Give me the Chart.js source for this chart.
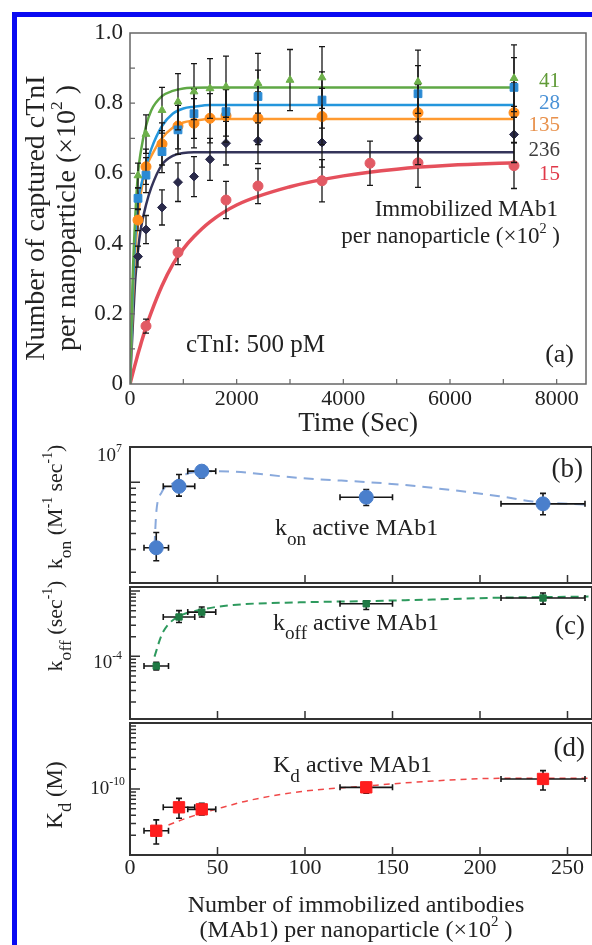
<!DOCTYPE html>
<html>
<head>
<meta charset="utf-8">
<title>cTnI capture kinetics</title>
<script src="https://cdn.jsdelivr.net/npm/chart.js@4.4.1/dist/chart.umd.min.js"></script>
<style>
  body { margin: 0; background: #fff; }
  #page { position: relative; width: 592px; height: 945px; overflow: hidden; }
  #page canvas { position: absolute; left: 0; top: 0; }
  #rim { position: absolute; left: 12px; top: 12px; width: 620px; height: 980px;
         border-left: 5px solid #0a0af2; border-top: 5px solid #0a0af2; }
</style>
</head>
<body>
<div id="page">
  <div id="rim"></div>
  <canvas id="chartA" width="592" height="945"></canvas>
  <canvas id="chartB" width="592" height="945"></canvas>
  <canvas id="chartC" width="592" height="945"></canvas>
  <canvas id="chartD" width="592" height="945"></canvas>
</div>
<script>
const FONT = '"Liberation Serif", "Times New Roman", serif';
Chart.defaults.font.family = FONT;
Chart.defaults.color = "#222";
Chart.defaults.animation = false;

// (a) captured cTnI per nanoparticle vs time, one series per MAb1 loading
const timeA = [150, 300, 600, 900, 1200, 1500, 1800, 2400, 3000, 3600, 4500, 5400, 7200];
const cap41 = [0.594, 0.712, 0.78, 0.804, 0.833, 0.842, 0.847, 0.857, 0.866, 0.873, null, 0.861, 0.871];
const cap28 = [0.529, 0.595, 0.662, 0.724, 0.77, null, 0.776, 0.819, null, 0.809, null, 0.827, 0.845];
const cap135 = [0.467, 0.619, 0.684, 0.735, 0.743, 0.757, 0.764, 0.757, null, 0.762, null, 0.773, 0.773];
const cap236 = [0.363, 0.44, 0.503, 0.575, 0.591, 0.64, 0.686, 0.693, null, 0.688, null, 0.7, 0.711];
const cap15 = [null, 0.165, null, 0.375, null, null, 0.524, 0.564, null, 0.579, 0.629, 0.63, 0.622];
const err41 = [0.035, 0.055, 0.065, 0.08, 0.08, 0.085, 0.087, 0.085, 0.087, 0.088, null, 0.09, 0.095];
const err28 = [0.03, 0.05, 0.06, 0.07, 0.07, null, 0.07, 0.075, null, 0.08, null, 0.08, 0.085];
const err135 = [0.03, 0.05, 0.06, 0.065, 0.07, 0.07, 0.075, 0.075, null, 0.08, null, 0.08, 0.085];
const err236 = [0.03, 0.04, 0.05, 0.055, 0.057, 0.06, 0.062, 0.065, null, 0.07, null, 0.075, 0.08];
const err15 = [null, 0.02, null, 0.035, null, null, 0.053, 0.05, null, 0.06, 0.063, 0.07, 0.065];

// fitted curves
const fitTime = [0, 50, 100, 150, 200, 300, 400, 600, 800, 1000, 1200, 1500, 2000, 3000, 4000, 5000, 6000, 7200];
const fit41 = [0, 0.3, 0.48, 0.6, 0.66, 0.735, 0.78, 0.82, 0.835, 0.842, 0.844, 0.845, 0.845, 0.845, 0.845, 0.845, 0.845, 0.845];
const fit28 = [0, 0.25, 0.42, 0.52, 0.56, 0.62, 0.67, 0.735, 0.77, 0.785, 0.79, 0.795, 0.795, 0.795, 0.795, 0.795, 0.795, 0.795];
const fit135 = [0, 0.22, 0.38, 0.47, 0.54, 0.615, 0.65, 0.7, 0.73, 0.745, 0.75, 0.755, 0.755, 0.755, 0.755, 0.755, 0.755, 0.755];
const fit236 = [0, 0.16, 0.3, 0.38, 0.44, 0.51, 0.56, 0.625, 0.65, 0.658, 0.66, 0.66, 0.66, 0.66, 0.66, 0.66, 0.66, 0.66];
const fit15 = [0, 0.03, 0.058, 0.086, 0.112, 0.162, 0.205, 0.28, 0.34, 0.385, 0.42, 0.462, 0.51, 0.562, 0.593, 0.612, 0.623, 0.63];

const xTicksA = [0, 2000, 4000, 6000, 8000];
const yTicksA = [0, 0.2, 0.4, 0.6, 0.8, 1.0];

// (b)-(d) rate constants vs immobilized MAb1 (x10^2)
const mab = [15, 28, 41, 135, 236];
const mabErr = [7, 9, 8, 15, 24];
const kon = [3.1e6, 9.3e6, 1.22e7, 7.66e6, 6.8e6];
const konHi = [4.07e6, 1.15e7, 1.35e7, 8.8e6, 8.2e6];
const konLo = [2.46e6, 7.8e6, 1.08e7, 6.6e6, 5.6e6];
const konFitX = [14, 15, 18, 25, 34, 50, 97, 154, 211, 230, 262];
const konFit = [3.2e6, 5.8e6, 8.3e6, 9.9e6, 1.18e7, 1.22e7, 1.08e7, 9.6e6, 7.8e6, 7.1e6, 6.7e6];
const koff = [7.1e-5, 4.0e-4, 4.75e-4, 6.36e-4, 7.8e-4];
const koffHi = [8.1e-5, 5.0e-4, 5.7e-4, 7.1e-4, 9.3e-4];
const koffLo = [6.2e-5, 3.3e-4, 4.0e-4, 5.2e-4, 6.3e-4];
const koffFitX = [14, 18, 22, 28, 41, 59, 97, 135, 173, 211, 262];
const koffFit = [9.9e-5, 2.1e-4, 3.1e-4, 4.1e-4, 5.2e-4, 6.1e-4, 6.7e-4, 7.0e-4, 7.4e-4, 7.9e-4, 8.2e-4];
const kd = [2.33e-11, 5.28e-11, 4.92e-11, 1.06e-10, 1.42e-10];
const kdHi = [3.4e-11, 7.2e-11, 6.07e-11, 1.25e-10, 1.9e-10];
const kdLo = [1.47e-11, 3.6e-11, 4.04e-11, 8.6e-11, 9.65e-11];
const kdFitX = [22, 32, 51, 69, 97, 135, 173, 211, 262];
const kdFit = [2.85e-11, 3.6e-11, 5.1e-11, 6.8e-11, 9.1e-11, 1.11e-10, 1.32e-10, 1.45e-10, 1.45e-10];

const xTicksBD = [0, 50, 100, 150, 200, 250];

// ---------- helpers ----------
const withBars = (xs, ys, es) =>
  xs.map((x, i) => ({ x, y: ys[i], lo: ys[i] - es[i], hi: ys[i] + es[i] })).filter((p) => p.y != null);
const withBoxBars = (ys, lo, hi) =>
  mab.map((x, i) => ({ x, y: ys[i], lo: lo[i], hi: hi[i], xe: mabErr[i] }));
const curve = (xs, ys) => xs.map((x, i) => ({ x, y: ys[i] }));

function logMarks(min, max) {
  const out = [];
  for (let e = Math.floor(Math.log10(min)); e <= Math.ceil(Math.log10(max)); e++) {
    for (let m = 1; m <= 9; m++) {
      const v = m * Math.pow(10, e);
      if (v >= min && v <= max) out.push([v, m === 1 ? 10 : 6]);
    }
  }
  return out;
}

// draws text made of parts: "plain" or [text, 1] for subscript, [text, 2] for superscript
function rich(ctx, parts, x, y, size, align = "left", color = "#222", rot = 0) {
  const segs = parts.map((p) => (typeof p === "string" ? [p, 0] : p));
  const fontOf = (m) => (m === 1 ? size * 0.8 : m === 2 ? size * 0.62 : size) + "px " + FONT;
  let w = 0;
  segs.forEach(([t, m]) => { ctx.font = fontOf(m); w += ctx.measureText(t).width; });
  ctx.save();
  ctx.translate(x, y);
  ctx.rotate(rot);
  ctx.fillStyle = color;
  ctx.textAlign = "left";
  ctx.textBaseline = "alphabetic";
  let cx = align === "center" ? -w / 2 : align === "right" ? -w : 0;
  segs.forEach(([t, m]) => {
    ctx.font = fontOf(m);
    ctx.fillText(t, cx, m === 1 ? size * 0.4 : m === 2 ? -size * 0.45 : 0);
    cx += ctx.measureText(t).width;
  });
  ctx.restore();
}

const notes = (items) => ({
  id: "notes",
  afterDraw(chart) {
    items.forEach((n) => rich(chart.ctx, n.t, n.x, n.y, n.size, n.align, n.color, n.rot));
  },
});

const errorBars = {
  id: "errorBars",
  beforeDatasetDraw(chart, args) {
    const ds = chart.data.datasets[args.index];
    if (!ds.bars) return;
    const { ctx, scales: { x, y } } = chart;
    const cap = ds.bars.cap;
    ctx.save();
    ctx.strokeStyle = "#161616";
    ctx.lineWidth = ds.bars.width;
    ctx.beginPath();
    ds.data.forEach((p) => {
      const px = x.getPixelForValue(p.x);
      const py = y.getPixelForValue(p.y);
      if (p.hi != null) {
        const t = y.getPixelForValue(p.hi), b = y.getPixelForValue(p.lo);
        ctx.moveTo(px, t); ctx.lineTo(px, b);
        ctx.moveTo(px - cap, t); ctx.lineTo(px + cap, t);
        ctx.moveTo(px - cap, b); ctx.lineTo(px + cap, b);
      }
      if (p.xe) {
        const l = x.getPixelForValue(p.x - p.xe), r = x.getPixelForValue(p.x + p.xe);
        ctx.moveTo(l, py); ctx.lineTo(r, py);
        ctx.moveTo(l, py - cap); ctx.lineTo(l, py + cap);
        ctx.moveTo(r, py - cap); ctx.lineTo(r, py + cap);
      }
    });
    ctx.stroke();
    ctx.restore();
  },
};

// box round the plot area plus inward tick marks
const frame = (o) => ({
  id: "frame",
  afterDatasetsDraw(chart) {
    const { ctx, chartArea: a, scales: { x, y } } = chart;
    ctx.save();
    ctx.strokeStyle = o.color;
    ctx.lineWidth = o.width;
    ctx.strokeRect(a.left, a.top, a.right - a.left, a.bottom - a.top);
    ctx.lineWidth = o.tickWidth;
    ctx.beginPath();
    o.xMarks.forEach((v) => {
      const px = x.getPixelForValue(v);
      ctx.moveTo(px, a.bottom); ctx.lineTo(px, a.bottom - o.xLen);
    });
    o.yMarks.forEach(([v, len]) => {
      const py = y.getPixelForValue(v);
      ctx.moveTo(a.left, py); ctx.lineTo(a.left + len, py);
    });
    ctx.stroke();
    ctx.restore();
  },
});

const baseOptions = (padding) => ({
  responsive: false,
  events: [],
  layout: { padding, autoPadding: false },
  plugins: { legend: { display: false }, tooltip: { enabled: false } },
});

const pointSet = (data, color, style, radius, barWidth, cap) => ({
  data,
  showLine: false,
  pointStyle: style,
  pointRadius: radius,
  pointBackgroundColor: color,
  pointBorderColor: color,
  pointBorderWidth: 1,
  bars: { width: barWidth, cap },
  order: 1,
});
const lineSet = (data, color, width, dash) => ({
  data,
  showLine: true,
  pointRadius: 0,
  borderColor: color,
  borderWidth: width,
  borderDash: dash || [],
  cubicInterpolationMode: "monotone",
  fill: false,
  order: 2,
});

// ---------- (a) ----------
const seriesA = [
  { ys: cap41, es: err41, fit: fit41, mark: "#6db04a", line: "#5fa845", style: "triangle", r: 4.5, w: 2.5, text: "#5f9a36" },
  { ys: cap28, es: err28, fit: fit28, mark: "#2a8ad4", line: "#2496dc", style: "rect", r: 5.5, w: 2.5, text: "#4b92d6" },
  { ys: cap135, es: err135, fit: fit135, mark: "#ff8c1a", line: "#ff9a30", style: "circle", r: 5, w: 2.5, text: "#e8914c" },
  { ys: cap236, es: err236, fit: fit236, mark: "#2a2a4a", line: "#34345a", style: "rectRot", r: 4.5, w: 2.5, text: "#3c3c3c" },
  { ys: cap15, es: err15, fit: fit15, mark: "#e25a64", line: "#e5505c", style: "circle", r: 5, w: 3.5, text: "#e03848" },
];
const labelsA = ["41", "28", "135", "236", "15"];

new Chart(document.getElementById("chartA"), {
  type: "scatter",
  data: {
    datasets: [
      ...seriesA.map((s) => pointSet(withBars(timeA, s.ys, s.es), s.mark, s.style, s.r, 1.3, 3)),
      ...seriesA.map((s) => lineSet(curve(fitTime, s.fit), s.line, s.w)),
    ],
  },
  options: {
    ...baseOptions({ left: 0, top: 33, right: 6, bottom: 505 }),
    scales: {
      x: {
        type: "linear", min: 0, max: 8550,
        grid: { display: false, drawTicks: false }, border: { display: false },
        afterBuildTicks: (s) => { s.ticks = xTicksA.map((v) => ({ value: v })); },
        afterFit: (s) => { s.height = 56; },
        ticks: { font: { size: 22 }, color: "#222", padding: 2, maxRotation: 0, autoSkip: false, callback: (v) => String(v) },
      },
      y: {
        type: "linear", min: 0, max: 1,
        grid: { display: false, drawTicks: false }, border: { display: false },
        afterBuildTicks: (s) => { s.ticks = yTicksA.map((v) => ({ value: v })); },
        afterFit: (s) => { s.width = 130; },
        ticks: { font: { size: 23 }, color: "#222", padding: 7, callback: (v) => (v === 0 ? "0" : v.toFixed(1)) },
      },
    },
  },
  plugins: [
    errorBars,
    frame({
      color: "#666", width: 1.5, tickWidth: 1.2, xLen: 5,
      xMarks: [1000, 2000, 3000, 4000, 5000, 6000, 7000, 8000],
      yMarks: [0.1, 0.2, 0.3, 0.4, 0.5, 0.6, 0.7, 0.8, 0.9].map((v) => [v, 5]),
    }),
    notes([
      { t: ["Number of captured cTnI"], x: 44, y: 218, size: 28, align: "center", rot: -Math.PI / 2 },
      { t: ["per nanoparticle (\u00d710", ["2", 2], " )"], x: 75, y: 218, size: 28, align: "center", rot: -Math.PI / 2 },
      { t: ["Time (Sec)"], x: 358, y: 431, size: 27, align: "center" },
      ...labelsA.map((l, i) => ({ t: [l], x: 560, y: [87, 108.5, 130.5, 155.5, 180][i], size: 21, align: "right", color: seriesA[i].text })),
      { t: ["Immobilized MAb1"], x: 558, y: 216, size: 23, align: "right" },
      { t: ["per nanoparticle (\u00d710", ["2", 2], " )"], x: 560, y: 243, size: 23, align: "right" },
      { t: ["cTnI: 500 pM"], x: 186, y: 352, size: 25 },
      { t: ["(a)"], x: 574, y: 362, size: 26, align: "right" },
    ]),
  ],
});

// ---------- (b)-(d) ----------
function ratePanel(id, o) {
  return new Chart(document.getElementById(id), {
    type: "scatter",
    data: {
      datasets: [
        pointSet(withBoxBars(o.ys, o.lo, o.hi), o.mark, o.style, o.r, 1.6, 3),
        lineSet(curve(o.fitX, o.fit), o.line, o.lineWidth, o.dash),
      ],
    },
    options: {
      ...baseOptions({ left: 0, top: o.top, right: 0, bottom: 945 - o.bottom - o.xh }),
      scales: {
        x: {
          type: "linear", min: 0, max: 264,
          grid: { display: false, drawTicks: false }, border: { display: false },
          afterBuildTicks: (s) => { s.ticks = xTicksBD.map((v) => ({ value: v })); },
          afterFit: (s) => { s.height = o.xh; },
          ticks: { display: o.xLabels, font: { size: 22 }, color: "#222", padding: 0, maxRotation: 0, autoSkip: false, callback: (v) => String(v) },
        },
        y: {
          type: "logarithmic", min: o.min, max: o.max,
          grid: { display: false, drawTicks: false }, border: { display: false },
          ticks: { display: false },
          afterFit: (s) => { s.width = 130; },
        },
      },
    },
    plugins: [
      errorBars,
      frame({ color: "#333", width: 2, tickWidth: 1.5, xLen: 8, xMarks: [50, 100, 150, 200, 250], yMarks: logMarks(o.min, o.max) }),
      notes(o.notes),
    ],
  });
}

ratePanel("chartB", {
  ys: kon, lo: konLo, hi: konHi, fitX: konFitX, fit: konFit,
  mark: "#4a7fcc", style: "circle", r: 7, line: "#89a9dc", lineWidth: 2, dash: [10, 7],
  min: 1.65e6, max: 1.88e7, top: 447, bottom: 583, xh: 0, xLabels: false,
  notes: [
    { t: ["(b)"], x: 583, y: 477, size: 27, align: "right" },
    { t: ["k", ["on", 1], " active MAb1"], x: 275, y: 535, size: 24 },
    { t: ["k", ["on", 1], " (M", ["-1", 2], " sec", ["-1", 2], ")"], x: 62, y: 507, size: 22, align: "center", rot: -Math.PI / 2 },
    { t: ["10", ["7", 2]], x: 122, y: 461, size: 19, align: "right" },
  ],
});

ratePanel("chartC", {
  ys: koff, lo: koffLo, hi: koffHi, fitX: koffFitX, fit: koffFit,
  mark: "#1f7a44", style: "rect", r: 4.5, line: "#2e9a5e", lineWidth: 2, dash: [8, 5],
  min: 1.1e-5, max: 1.15e-3, top: 587, bottom: 719, xh: 0, xLabels: false,
  notes: [
    { t: ["(c)"], x: 585, y: 634, size: 27, align: "right" },
    { t: ["k", ["off", 1], " active MAb1"], x: 273, y: 629.5, size: 24 },
    { t: ["k", ["off", 1], " (sec", ["-1", 2], ")"], x: 62, y: 626, size: 22, align: "center", rot: -Math.PI / 2 },
    { t: ["10", ["-4", 2]], x: 122, y: 668, size: 19, align: "right" },
  ],
});

ratePanel("chartD", {
  ys: kd, lo: kdLo, hi: kdHi, fitX: kdFitX, fit: kdFit,
  mark: "#ff1e1e", style: "rect", r: 8, line: "#f04848", lineWidth: 1.5, dash: [6, 5],
  min: 1e-11, max: 1e-9, top: 723, bottom: 855, xh: 40, xLabels: true,
  notes: [
    { t: ["(d)"], x: 585, y: 756, size: 27, align: "right" },
    { t: ["K", ["d", 1], " active MAb1"], x: 273, y: 772, size: 24 },
    { t: ["K", ["d", 1], " (M)"], x: 62, y: 795, size: 23, align: "center", rot: -Math.PI / 2 },
    { t: ["10", ["-10", 2]], x: 125, y: 794, size: 19, align: "right" },
    { t: ["Number of immobilized antibodies"], x: 356, y: 912, size: 24, align: "center" },
    { t: ["(MAb1) per nanoparticle (\u00d710", ["2", 2], " )"], x: 356, y: 937, size: 24, align: "center" },
  ],
});
</script>
</body>
</html>
